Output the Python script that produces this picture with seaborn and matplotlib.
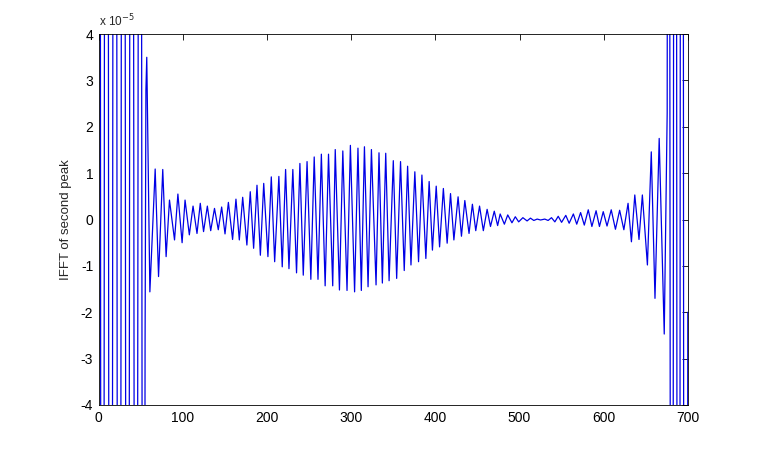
"""
IFFT of the second peak, redrawn from a MATLAB figure.
Values are turning points of the waveform read off the picture (units of 1e-5).
"""

import pandas as pd
import matplotlib
matplotlib.use("Agg")
import matplotlib.pyplot as plt
import seaborn as sns

# off-scale oscillation at the left edge (clipped by the y limits)
left_idx = [0, 4, 9, 14, 19, 24, 29, 34, 39, 44, 49, 53, 55, 56, 57]
left_vals = [60, -55, 55, -50, 50, -45, 45, -40, 40, -35, 35, -30, -2.6, 2.8, 3.5]

# visible part of the waveform: alternating troughs and peaks
mid_idx = [
    60.7, 67, 71, 76, 80, 84, 90, 94, 99, 102.5, 107.6, 112, 116.7, 120.6,
    124.5, 129, 133, 137.5, 142, 146, 150, 154, 159, 163, 167, 171, 176, 180,
    184, 188, 192, 196, 201, 205, 209, 214, 218, 222, 226, 230.6, 235, 239,
    243, 247.5, 252, 256, 260.5, 264.5, 269, 273, 278, 281, 286, 290, 295,
    299, 304, 308, 312, 315.7, 320, 324, 329.5, 333, 337, 341, 345, 350, 354,
    358.6, 363, 367, 371, 375.6, 380, 384, 388.7, 392.6, 396.5, 401, 405,
    409.5, 414, 418, 422, 427, 431, 435, 440, 444, 448, 452.5, 457, 461.5,
    465.5, 470, 474, 477, 482, 486, 491, 495, 499, 504, 509, 513, 517, 521,
    525, 530, 534, 538, 542, 546, 550, 555, 559, 564, 568, 572.6, 577, 581.7,
    586, 591, 595, 599.5, 604, 609, 614, 619, 624, 629, 633, 637, 642, 646,
    652, 656.6, 661, 666, 672, 675.5,
]
mid_vals = [
    -1.56, 1.09, -1.23, 1.08, -0.8, 0.42, -0.44, 0.55, -0.5, 0.42, -0.33,
    0.29, -0.3, 0.35, -0.26, 0.29, -0.24, 0.24, -0.22, 0.27, -0.31, 0.37,
    -0.43, 0.44, -0.44, 0.48, -0.55, 0.6, -0.62, 0.74, -0.77, 0.78, -0.8,
    0.92, -0.91, 0.93, -1.02, 1.08, -1.06, 1.08, -1.15, 1.21, -1.2, 1.25,
    -1.29, 1.35, -1.29, 1.41, -1.43, 1.41, -1.43, 1.51, -1.52, 1.48, -1.53,
    1.6, -1.56, 1.54, -1.53, 1.57, -1.45, 1.51, -1.41, 1.44, -1.37, 1.43,
    -1.32, 1.27, -1.27, 1.25, -1.1, 1.15, -0.98, 1.03, -0.91, 0.96, -0.84,
    0.82, -0.66, 0.72, -0.59, 0.67, -0.51, 0.56, -0.44, 0.49, -0.36, 0.41,
    -0.3, 0.33, -0.24, 0.29, -0.24, 0.22, -0.15, 0.18, -0.13, 0.12, -0.1,
    0.1, -0.07, 0.06, -0.05, 0.04, -0.03, 0.03, -0.02, 0.01, -0.01, 0.01,
    -0.02, 0.04, -0.05, 0.07, -0.06, 0.09, -0.08, 0.12, -0.1, 0.15, -0.12,
    0.21, -0.15, 0.19, -0.15, 0.17, -0.14, 0.21, -0.21, 0.2, -0.22, 0.35,
    -0.48, 0.53, -0.43, 0.53, -0.98, 1.46, -1.7, 1.75, -2.47, 2.3,
]

# off-scale oscillation at the right edge
right_idx = [677, 681, 685, 689, 693, 697, 700]
right_vals = [35, -40, 45, -50, 55, -60, -2.0]

xticks = [0, 100, 200, 300, 400, 500, 600, 700]
yticks = [-4, -3, -2, -1, 0, 1, 2, 3, 4]

df = pd.DataFrame({
    "sample": left_idx + mid_idx + right_idx,
    "ifft": left_vals + mid_vals + right_vals,
})

sns.set_style("white")
plt.rcParams["font.family"] = ["Liberation Sans", "DejaVu Sans"]
plt.rcParams["axes.unicode_minus"] = False

fig = plt.figure(figsize=(7.6, 4.55), dpi=100)
ax = fig.add_axes([0.13, 0.11, 0.775, 0.815])

sns.lineplot(data=df, x="sample", y="ifft", ax=ax, estimator=None,
             sort=False, color="#0000e6", linewidth=0.9)

ax.set_xlim(0, 700)
ax.set_ylim(-4, 4)
ax.set_xticks(xticks)
ax.set_yticks(yticks)
ax.set_xlabel("")
ax.set_ylabel("IFFT of second peak", fontsize=9.5, labelpad=6)
ax.tick_params(direction="in", top=True, right=True, length=4, width=0.6,
               labelsize=10, pad=4, colors="black")
for side in ax.spines.values():
    side.set_color("black")
    side.set_linewidth(0.6)

ax.text(0.0, 1.012, r"x 10$^{-5}$", transform=ax.transAxes,
        fontsize=8.5, ha="left", va="bottom")

fig.savefig("out.png", dpi=100, facecolor="white")
